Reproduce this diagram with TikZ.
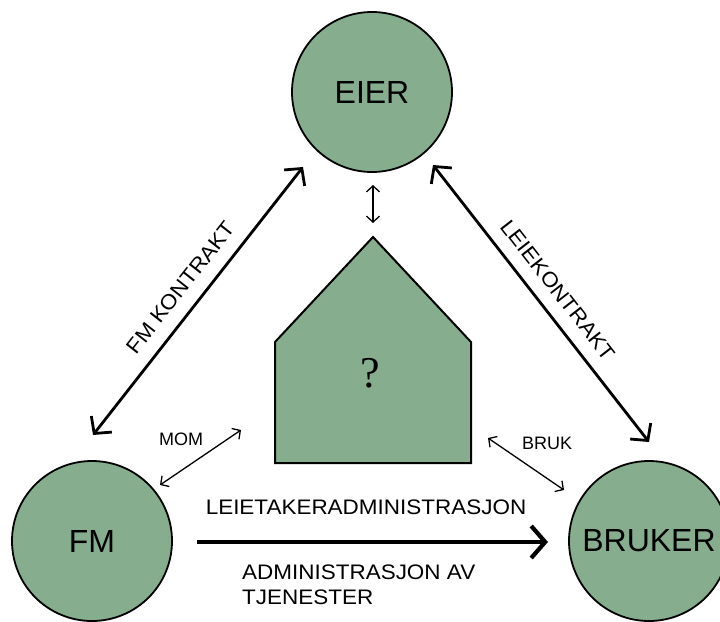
\documentclass[tikz,border=0pt]{standalone}
\usepackage{fontspec}
\setmainfont{Liberation Sans}
\newfontfamily\lblfont[FakeStretch=1.07]{Liberation Sans}
\newfontfamily\qfont{Liberation Serif}
\usetikzlibrary{arrows.meta,positioning}
\definecolor{roomgreen}{RGB}{134,173,142}

\tikzset{
  party/.style={circle,draw,fill=roomgreen,line width=1.8pt,minimum size=160pt,inner sep=0pt,
    font=\fontsize{32}{36}\selectfont},
  biglink/.style={{Straight Barb[length=12pt,width=26pt]}-{Straight Barb[length=12pt,width=26pt]},line width=2.8pt},
  thinlink/.style={{Straight Barb[length=6pt,width=13pt]}-{Straight Barb[length=6pt,width=13pt]},line width=1.3pt},
  maintext/.style={font=\lblfont\fontsize{21}{25}\selectfont,inner sep=0pt},
  smalltext/.style={font=\fontsize{18}{20}\selectfont,inner sep=0pt}
}

\begin{document}
\begin{tikzpicture}[x=1pt,y=-1pt]

   \useasboundingbox (0,0) rectangle (720,621);

   % the three parties
   \node[party] (eier) at (372,92) {EIER};
   \node[party] (fm) at (92,541) {FM};
   \node[party] (bruker) at (649,541) {BRUKER};

   % the building
   \coordinate (hBL) at (275,463);
   \coordinate (hBR) at (471,463);
   \coordinate (hR) at (471,342);
   \coordinate (hTop) at (373,237);
   \coordinate (hL) at (275,342);
   \filldraw[fill=roomgreen,line width=2pt] (hBL) -- (hBR) -- (hR) -- (hTop) -- (hL) -- cycle;
   \node[font=\qfont\fontsize{44}{48}\selectfont] (what) at (370,373) {?};

   % arrow ends
   \coordinate (fmkA) at (93,435);
   \coordinate (fmkB) at (303,167);
   \coordinate (lkA) at (433,165);
   \coordinate (lkB) at (649,442);
   \coordinate (ehA) at (373,185);
   \coordinate (ehB) at (373,223);
   \coordinate (momA) at (160,485);
   \coordinate (momB) at (241,430);
   \coordinate (brA) at (488,438);
   \coordinate (brB) at (564,490);
   \coordinate (adA) at (197,542);
   \coordinate (adB) at (548,542);

   \draw[biglink] (fmkA) -- node[sloped,above=13pt,maintext] (fmk) {FM KONTRAKT} (fmkB);
   \draw[biglink] (lkA) -- node[sloped,above=13pt,maintext] (lk) {LEIEKONTRAKT} (lkB);

   \draw[thinlink] (ehA) -- (ehB);
   \draw[thinlink] (momA) -- (momB);
   \draw[thinlink] (brA) -- (brB);

   \node[smalltext] (mom) at (181,439) {MOM};
   \node[smalltext] (bruk) at (547,443) {BRUK};

   \draw[-{Straight Barb[length=14pt,width=32pt]},line width=4.2pt] (adA) -- (adB);
   \node[maintext] (lta) at (366,507) {LEIETAKERADMINISTRASJON};
   \node[maintext,align=left,anchor=north west] (adm) at (242,565) {ADMINISTRASJON AV\\TJENESTER};

\end{tikzpicture}
\end{document}
